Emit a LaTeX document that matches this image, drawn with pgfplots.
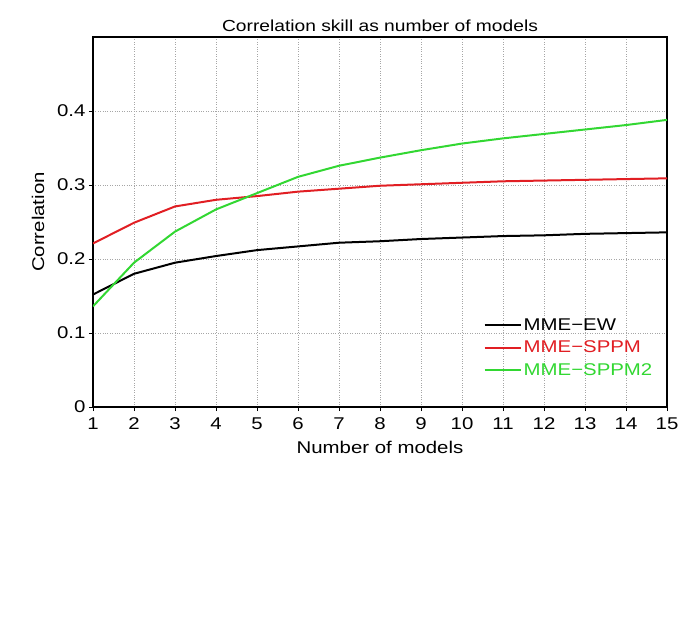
\documentclass[border=0pt]{standalone}
\usepackage{pgfplots}
\pgfplotsset{compat=1.18}
\usepackage{fontspec}
\setmainfont{Liberation Sans}[FakeStretch=1.2]
\definecolor{cred}{RGB}{225,30,35}
\definecolor{cgreen}{RGB}{50,215,50}
\begin{document}
\begin{tikzpicture}
\begin{axis}[
  name=ax,
  scale only axis,
  width=574pt, height=370pt,
  xmin=1, xmax=15, ymin=0, ymax=0.5,
  xtick={1,...,15},
  ytick={0,0.1,0.2,0.3,0.4},
  yticklabels={0,0.1,0.2,0.3,0.4},
  tick pos=left,
  tick align=outside,
  major tick length=4pt,
  axis line style={line width=1.8pt},
  tick style={black, line width=0.8pt},
  grid=major,
  major grid style={gray!70, dotted, line width=0.8pt},
  /pgf/number format/assume math mode=true,
  ticklabel style={font=\fontsize{17}{19}\selectfont},
  xticklabel style={yshift=-3pt},
  title={Correlation skill as number of models},
  title style={font=\fontsize{16}{19}\selectfont, yshift=-4pt},
  xlabel={Number of models},
  ylabel={Correlation},
  label style={font=\fontsize{17}{19}\selectfont},
  xlabel style={yshift=-5pt},
  ylabel style={yshift=6pt},
  legend style={draw=none, fill=none, at={(0.675,0.25)}, anchor=north west,
    font=\fontsize{17}{19}\selectfont, row sep=5pt},
  legend cell align=left,
  legend image code/.code={\draw[#1, line width=2pt] (0pt,0pt) -- (36pt,0pt);},
]
\addplot[black, line width=2pt] coordinates {
(1,0.152) (2,0.180) (3,0.195) (4,0.204) (5,0.212) (6,0.217) (7,0.222) (8,0.224)
(9,0.227) (10,0.229) (11,0.231) (12,0.232) (13,0.234) (14,0.235) (15,0.236)};
\addlegendentry{MME−EW}
\addplot[cred, line width=2pt] coordinates {
(1,0.221) (2,0.249) (3,0.271) (4,0.280) (5,0.285) (6,0.291) (7,0.295) (8,0.299)
(9,0.301) (10,0.303) (11,0.305) (12,0.306) (13,0.307) (14,0.308) (15,0.309)};
\addlegendentry{\textcolor{cred}{MME−SPPM}}
\addplot[cgreen, line width=2pt] coordinates {
(1,0.136) (2,0.195) (3,0.237) (4,0.267) (5,0.289) (6,0.311) (7,0.326) (8,0.337)
(9,0.347) (10,0.356) (11,0.363) (12,0.369) (13,0.375) (14,0.381) (15,0.388)};
\addlegendentry{\textcolor{cgreen}{MME−SPPM2}}
\end{axis}
\path (ax.south west) ++(-93pt,-216pt) coordinate (bl);
\path (ax.north east) ++(30pt,37pt) coordinate (tr);
\path (bl) rectangle (tr);
\end{tikzpicture}
\end{document}
